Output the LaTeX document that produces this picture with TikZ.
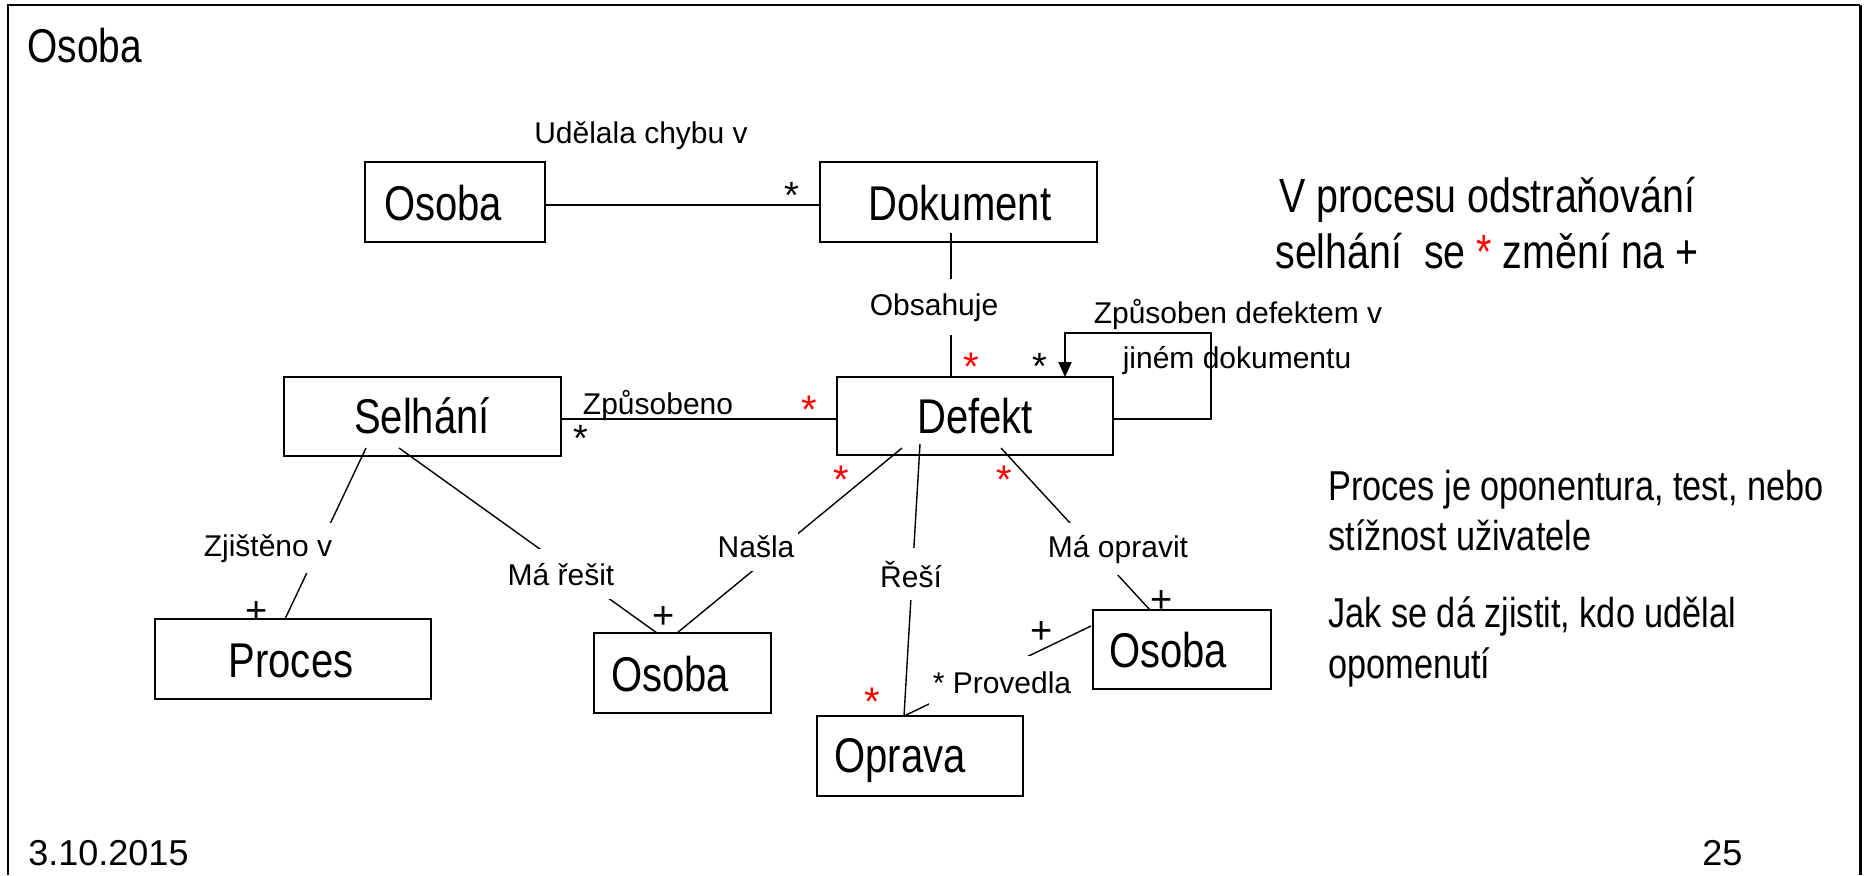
\documentclass[tikz,border=0pt]{standalone}
\usepackage{fontspec}
\setmainfont{Liberation Sans}
\newfontfamily\narrowfont[FakeStretch=0.82]{Liberation Sans}
\usetikzlibrary{calc,arrows.meta}

\tikzset{
  umlbox/.style={draw, line width=1pt, inner sep=0pt, outer sep=0pt},
  boxtext/.style={anchor=base, inner sep=0pt, font=\narrowfont\fontsize{24.4pt}{28pt}\selectfont},
  assoc/.style={line width=0.7pt},
  strongassoc/.style={line width=1pt},
  lbl/.style={anchor=base, fill=white, inner xsep=2pt, inner ysep=6pt, font=\fontsize{15pt}{18pt}\selectfont},
  plainlbl/.style={anchor=base, inner sep=0pt, font=\fontsize{15pt}{18pt}\selectfont},
  mult/.style={anchor=base, inner sep=0pt, font=\fontsize{19pt}{20pt}\selectfont},
  redmult/.style={anchor=base, inner sep=0pt, text=red, font=\fontsize{20pt}{22pt}\selectfont},
  plusmult/.style={anchor=base, inner sep=0pt, font=\fontsize{19pt}{20pt}\selectfont},
  notebig/.style={anchor=base west, inner sep=0pt, font=\narrowfont\fontsize{24pt}{28pt}\selectfont},
  notesmall/.style={anchor=base west, inner sep=0pt, font=\narrowfont\fontsize{20.9pt}{25pt}\selectfont},
  footer/.style={anchor=base west, inner sep=0pt, font=\fontsize{18pt}{20pt}\selectfont},
}

\begin{document}
\begin{tikzpicture}[x=0.5pt,y=-0.5pt]
\useasboundingbox (0,0) rectangle (1867,875);

% slide frame
\draw[line width=1pt] (8,875) -- (8,5) -- (1860,5);
\draw[line width=1.5pt] (1860,5) -- (1860,875);

% title and footer
\node[anchor=base west, inner sep=0pt, font=\narrowfont\fontsize{23.7pt}{28pt}\selectfont] (title) at (27,62) {Osoba};
\node[footer] (date) at (28,865) {3.10.2015};
\node[footer] (page) at (1702,865) {25};

% classes
\node[umlbox, minimum width=90pt,   minimum height=40pt]   (osobaA)   at (455,202)     {};
\node[umlbox, minimum width=138.5pt, minimum height=40pt]  (dokument) at (958.5,202)   {};
\node[umlbox, minimum width=138.5pt, minimum height=39.5pt] (selhani) at (422.5,416.5) {};
\node[umlbox, minimum width=138pt,  minimum height=39pt]   (defekt)   at (975,416)     {};
\node[umlbox, minimum width=138pt,  minimum height=40pt]   (proces)   at (293,659)     {};
\node[umlbox, minimum width=88.5pt, minimum height=40pt]   (osobaB)   at (682.5,673)   {};
\node[umlbox, minimum width=89pt,   minimum height=39.5pt] (osobaC)   at (1182,649.5)  {};
\node[umlbox, minimum width=103pt,  minimum height=40pt]   (oprava)   at (920,756)     {};

\node[boxtext] (tOsobaA)   at (443,220) {Osoba};
\node[boxtext] (tDokument) at (960,220) {Dokument};
\node[boxtext] (tSelhani)  at (422,433) {Selhání};
\node[boxtext] (tDefekt)   at (975,433) {Defekt};
\node[boxtext] (tProces)   at (291,677) {Proces};
\node[boxtext] (tOsobaB)   at (670,691) {Osoba};
\node[boxtext] (tOsobaC)   at (1168,667) {Osoba};
\node[boxtext] (tOprava)   at (900,772) {Oprava};

% associations
\draw[strongassoc] ($(osobaA.east)+(0,3)$) -- ($(dokument.west)+(0,3)$);
\draw[assoc] ($(dokument.south)+(-7.5,-9)$) -- ($(defekt.north)+(-24,0)$);
\draw[strongassoc] ($(selhani.east)+(0,2.5)$) -- ($(defekt.west)+(0,3)$);
\draw[strongassoc, -{Triangle[length=7.5pt,width=6.5pt]}]
  ($(defekt.east)+(0,3)$) -- ++(98,0) -- ++(0,-86) -- ++(-146,0) -- ($(defekt.north)+(90,0)$);
\draw[assoc] ($(selhani.south)+(-56.5,-8)$) -- ($(proces.north)+(-8,0)$);
\draw[assoc] ($(selhani.south)+(-23.5,-8)$) -- ($(osobaB.north)+(-25.5,0)$);
\draw[assoc] ($(defekt.south)+(-73,-7)$) -- ($(osobaB.north)+(-5.5,0)$);
\draw[assoc] ($(defekt.south)+(-55,-11)$) -- ($(oprava.north)+(-16,0)$);
\draw[assoc] ($(defekt.south)+(26,-7)$) -- ($(osobaC.north)+(-32,0)$);
\draw[assoc] ($(osobaC.west)+(-2,-23.5)$) -- ($(oprava.north)+(-16,0)$);

% association names
\node[plainlbl] (lUdelala)   at (641,143)  {Udělala chybu v};
\node[lbl, inner ysep=7pt] (lObsahuje) at (934,315) {Obsahuje};
\node[plainlbl] (lZpusobeno) at (658,414)  {Způsobeno};
\node[plainlbl] (lLoopA)     at (1238,323) {Způsoben defektem v};
\node[plainlbl] (lLoopB)     at (1237,368) {jiném dokumentu};
\node[lbl, inner ysep=5.5pt] (lZjisteno) at (268,556) {Zjištěno v};
\node[lbl, inner ysep=7pt]   (lResit)    at (561,585) {Má řešit};
\node[lbl, inner ysep=7pt]   (lNasla)    at (756,557) {Našla};
\node[lbl, inner ysep=6.5pt] (lResi)     at (911,587) {Řeší};
\node[lbl, inner ysep=6pt]   (lOpravit)  at (1118,557) {Má opravit};
\node[lbl, inner ysep=7.5pt] (lProvedla) at (1002,693) {* Provedla};

% multiplicities
\node[mult] (mDok)    at (792,208)  {*};
\node[mult] (mSel)    at (581,451)  {*};
\node[mult] (mLoop)   at (1040,379) {*};
\node[redmult] (rZpu) at (809,423)  {*};
\node[redmult] (rObs) at (971,380)  {*};
\node[redmult] (rNas) at (841,493)  {*};
\node[redmult] (rOpr) at (1004,493) {*};
\node[redmult] (rRes) at (872,715)  {*};
\node[plusmult] (pProc) at (257,623)  {+};
\node[plusmult] (pOsB)  at (664,628)  {+};
\node[plusmult] (pOsC)  at (1162,612) {+};
\node[plusmult] (pProv) at (1042,643) {+};

% notes
\node[notebig] (noteA1) at (1279,212) {V procesu odstraňování};
\node[notebig] (noteA2) at (1275,268) {selhání\ \ se {\color{red}*} změní na +};
\node[notesmall] (noteB1) at (1328,500) {Proces je oponentura, test, nebo};
\node[notesmall] (noteB2) at (1328,550) {stížnost uživatele};
\node[notesmall] (noteC1) at (1328,627) {Jak se dá zjistit, kdo udělal};
\node[notesmall] (noteC2) at (1328,678) {opomenutí};
\end{tikzpicture}
\end{document}
